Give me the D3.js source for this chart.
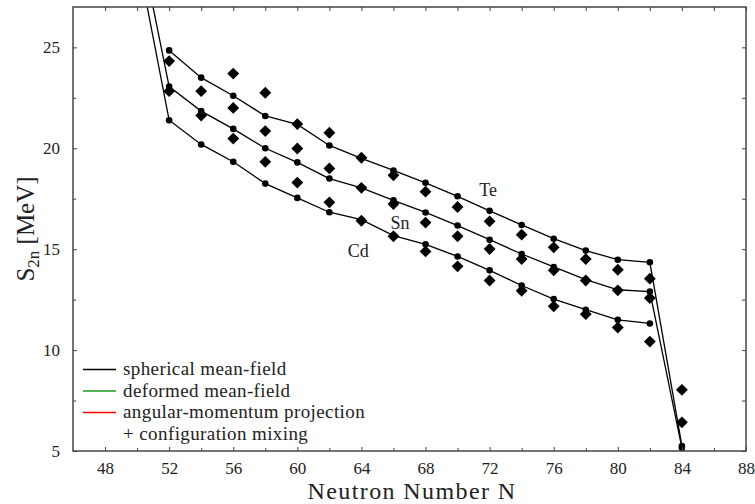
<!DOCTYPE html>
<html>
<head>
<meta charset="utf-8">
<script src="https://cdn.jsdelivr.net/npm/d3@7"></script>
<style>
  body { margin: 0; background: #fff; }
  text { font-family: "Liberation Serif", "DejaVu Serif", serif; fill: #222; }
</style>
</head>
<body>
<script>
// neutron numbers
const nTe = [52, 54, 56, 58, 60, 62, 64, 66, 68, 70, 72, 74, 76, 78, 80, 82, 84]
const nSn = [50, 52, 54, 56, 58, 60, 62, 64, 66, 68, 70, 72, 74, 76, 78, 80, 82, 84]
const nCd = [50, 52, 54, 56, 58, 60, 62, 64, 66, 68, 70, 72, 74, 76, 78, 80, 82]

// spherical mean-field S2n (MeV)
const thTe = [24.85, 23.5, 22.6, 21.6, 21.18, 20.14, 19.5, 18.9, 18.29, 17.62, 16.9, 16.2, 15.52, 14.93, 14.48, 14.35, 5.25]
const thSn = [30.9, 23.06, 21.84, 20.96, 20.0, 19.3, 18.5, 18.04, 17.42, 16.82, 16.17, 15.47, 14.76, 14.12, 13.49, 12.99, 12.9, 5.15]
const thCd = [29.6, 21.39, 20.19, 19.33, 18.25, 17.54, 16.83, 16.46, 15.67, 15.24, 14.64, 13.95, 13.2, 12.53, 12.0, 11.5, 11.32]

// experimental S2n (MeV)
const nExpTe = [52, 54, 56, 58, 60, 62, 64, 66, 68, 70, 72, 74, 76, 78, 80, 82, 84]
const expTe = [24.32, 22.83, 23.7, 22.75, 21.2, 20.77, 19.53, 18.66, 17.85, 17.09, 16.38, 15.72, 15.09, 14.51, 13.98, 13.54, 8.03]
const nExpSn = [52, 54, 56, 58, 60, 62, 64, 66, 68, 70, 72, 74, 76, 78, 80, 82, 84]
const expSn = [22.83, 21.62, 22.0, 20.85, 19.99, 19.0, 18.04, 17.24, 16.32, 15.64, 15.01, 14.51, 13.95, 13.45, 12.96, 12.58, 6.42]
const nExpCd = [56, 58, 60, 62, 64, 66, 68, 70, 72, 74, 76, 78, 80, 82]
const expCd = [20.48, 19.33, 18.3, 17.32, 16.41, 15.64, 14.89, 14.15, 13.45, 12.94, 12.17, 11.78, 11.12, 10.42]

// axis ticks
const xTicks = [48, 52, 56, 60, 64, 68, 72, 76, 80, 84, 88]
const xMinor = [50, 54, 58, 62, 66, 70, 74, 78, 82, 86]
const yTicks = [5, 10, 15, 20, 25]
const yMinor = [7.5, 12.5, 17.5, 22.5]

const legendItems = [
    { label: "spherical mean-field", color: "#000" },
    { label: "deformed mean-field", color: "#1a9a1a" },
    { label: "angular-momentum projection", color: "#ff0000" },
    { label: "+ configuration mixing", color: null }
]

const isotopeLabels = [
    { name: "Te", n: 71.9, v: 17.65 },
    { name: "Sn", n: 66.4, v: 16.0 },
    { name: "Cd", n: 63.8, v: 14.6 }
]

const width = 755, height = 504
const plotLeft = 73, plotRight = 746, plotTop = 7, plotBottom = 451

const svg = d3.select('body').append('svg')
    .attr('width', width)
    .attr('height', height)

const xScale = d3.scaleLinear().domain([46, 88]).range([plotLeft, plotRight])
const yScale = d3.scaleLinear().domain([5, 27]).range([plotBottom, plotTop])

svg.append('clipPath').attr('id', 'plot-clip')
    .append('rect')
    .attr('x', plotLeft).attr('y', plotTop)
    .attr('width', plotRight - plotLeft).attr('height', plotBottom - plotTop)

const plot = svg.append('g').attr('clip-path', 'url(#plot-clip)')

const line = d3.line()
    .x(d => xScale(d[0]))
    .y(d => yScale(d[1]))

const theory = [
    d3.zip(nTe, thTe),
    d3.zip(nSn, thSn),
    d3.zip(nCd, thCd)
]
const experiment = [
    d3.zip(nExpTe, expTe),
    d3.zip(nExpSn, expSn),
    d3.zip(nExpCd, expCd)
]

// theory lines
plot.selectAll('.th-line').data(theory)
    .enter()
    .append('path')
    .attr('d', d => line(d))
    .attr('fill', 'none')
    .attr('stroke', '#000')
    .attr('stroke-width', 1.3)

// experimental diamonds
const diamond = d3.symbol().type(d3.symbolSquare).size(70)
plot.selectAll('.exp').data(experiment.flat())
    .enter()
    .append('path')
    .attr('d', diamond)
    .attr('transform', d => `translate(${xScale(d[0])},${yScale(d[1])}) rotate(45)`)
    .attr('fill', '#000')

// theory dots
plot.selectAll('.dot').data(theory.flat())
    .enter()
    .append('circle')
    .attr('cx', d => xScale(d[0]))
    .attr('cy', d => yScale(d[1]))
    .attr('r', 3.3)
    .attr('fill', '#000')

// isotope labels
svg.selectAll('.iso').data(isotopeLabels)
    .enter()
    .append('text')
    .attr('x', d => xScale(d.n))
    .attr('y', d => yScale(d.v))
    .attr('text-anchor', 'middle')
    .style('font-size', '18px')
    .text(d => d.name)

// axes, ticks inward on all four sides
const tickStyle = g => {
    g.select('.domain').remove()
    g.selectAll('line').attr('stroke', '#444')
}

svg.append('g')
    .attr('transform', `translate(0,${plotBottom})`)
    .call(d3.axisBottom(xScale).tickValues(xTicks).tickSize(-4).tickPadding(11))
    .call(tickStyle)
    .call(g => g.selectAll('text').style('font-size', '17px').style('font-family', '"Liberation Serif", serif').attr('fill', '#222'))

svg.append('g')
    .attr('transform', `translate(0,${plotBottom})`)
    .call(d3.axisBottom(xScale).tickValues(xMinor).tickSize(-3).tickFormat(''))
    .call(tickStyle)

svg.append('g')
    .attr('transform', `translate(0,${plotTop})`)
    .call(d3.axisTop(xScale).tickValues(xTicks.concat(xMinor)).tickSize(-4).tickFormat(''))
    .call(tickStyle)

svg.append('g')
    .attr('transform', `translate(${plotLeft},0)`)
    .call(d3.axisLeft(yScale).tickValues(yTicks).tickSize(-4).tickPadding(13))
    .call(tickStyle)
    .call(g => g.selectAll('text').style('font-size', '17px').style('font-family', '"Liberation Serif", serif').attr('fill', '#222'))

svg.append('g')
    .attr('transform', `translate(${plotLeft},0)`)
    .call(d3.axisLeft(yScale).tickValues(yMinor).tickSize(-3).tickFormat(''))
    .call(tickStyle)

svg.append('g')
    .attr('transform', `translate(${plotRight},0)`)
    .call(d3.axisRight(yScale).tickValues(yTicks.concat(yMinor)).tickSize(-4).tickFormat(''))
    .call(tickStyle)

// frame
svg.append('rect')
    .attr('x', plotLeft).attr('y', plotTop)
    .attr('width', plotRight - plotLeft).attr('height', plotBottom - plotTop)
    .attr('fill', 'none')
    .attr('stroke', '#444')
    .attr('stroke-width', 1.5)

// axis titles
svg.append('text')
    .attr('x', 412)
    .attr('y', 499)
    .attr('text-anchor', 'middle')
    .style('font-size', '24px')
    .style('letter-spacing', '1.4px')
    .text('Neutron Number N')

const yTitle = svg.append('text')
    .attr('transform', `translate(34,${(plotTop + plotBottom) / 2}) rotate(-90)`)
    .attr('text-anchor', 'middle')
    .style('font-size', '25px')
yTitle.append('tspan').text('S')
yTitle.append('tspan').attr('dy', 5).style('font-size', '17px').text('2n')
yTitle.append('tspan').attr('dy', -5).text(' [MeV]')

// legend
const legend = svg.append('g')
const rowH = 21.5
legend.selectAll('.lg-line').data(legendItems.filter(d => d.color))
    .enter()
    .append('line')
    .attr('x1', 83).attr('x2', 116)
    .attr('y1', (d, i) => 369.5 + i * rowH)
    .attr('y2', (d, i) => 369.5 + i * rowH)
    .attr('stroke', d => d.color)
    .attr('stroke-width', 1.3)
legend.selectAll('.lg-text').data(legendItems)
    .enter()
    .append('text')
    .attr('x', 123)
    .attr('y', (d, i) => 375 + i * rowH)
    .style('font-size', '19px')
    .style('letter-spacing', '0.4px')
    .text(d => d.label)
</script>
</body>
</html>
